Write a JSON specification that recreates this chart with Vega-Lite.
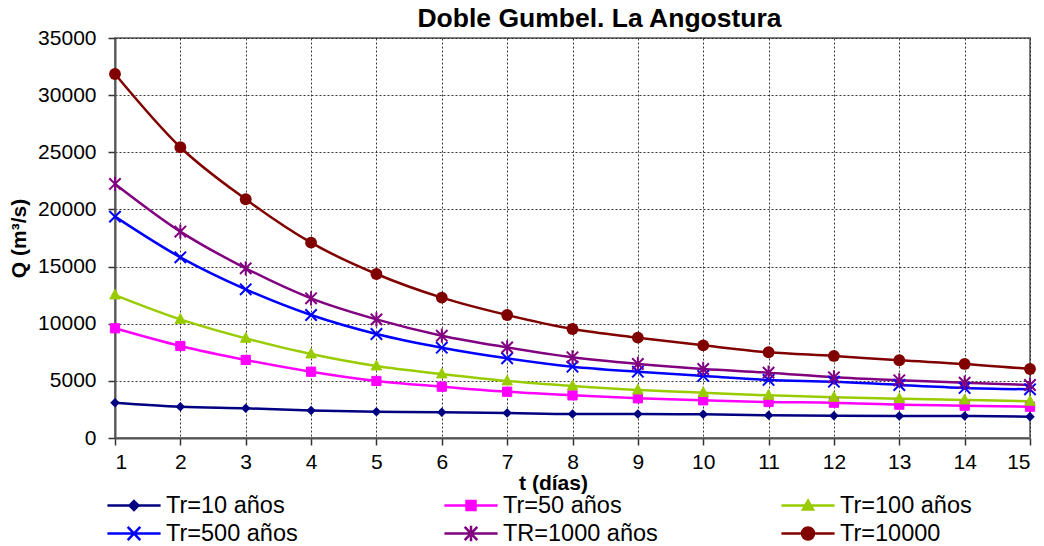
{
  "$schema": "https://vega.github.io/schema/vega-lite/v6.json",
  "width": 915,
  "height": 400,
  "autosize": "none",
  "padding": {"left": 115, "top": 38, "right": 14, "bottom": 108},
  "background": "white",
  "title": {"text": "Doble Gumbel. La Angostura", "font": "Liberation Sans", "fontSize": 26.5, "fontWeight": "bold", "color": "black", "anchor": "middle", "dx": 27, "offset": -5},
  "config": {
    "view": {"stroke": "#808080", "strokeWidth": 2},
    "axis": {"labelFont": "Liberation Sans", "labelFontSize": 21, "labelColor": "black", "titleFont": "Liberation Sans", "titleFontSize": 21, "titleFontWeight": "bold", "titleColor": "black", "gridColor": "#222", "gridDash": [2, 2], "gridWidth": 1, "gridOpacity": 0.9, "domainColor": "#555", "domainWidth": 2, "tickColor": "#333", "tickSize": 7, "tickWidth": 1.5}
  },
  "data": {"values": [
    {"t":1,"serie":"Tr=10 años","Q":3090},{"t":2,"serie":"Tr=10 años","Q":2740},{"t":3,"serie":"Tr=10 años","Q":2600},{"t":4,"serie":"Tr=10 años","Q":2400},{"t":5,"serie":"Tr=10 años","Q":2300},{"t":6,"serie":"Tr=10 años","Q":2250},{"t":7,"serie":"Tr=10 años","Q":2190},{"t":8,"serie":"Tr=10 años","Q":2100},{"t":9,"serie":"Tr=10 años","Q":2100},{"t":10,"serie":"Tr=10 años","Q":2070},{"t":11,"serie":"Tr=10 años","Q":1990},{"t":12,"serie":"Tr=10 años","Q":1950},{"t":13,"serie":"Tr=10 años","Q":1930},{"t":14,"serie":"Tr=10 años","Q":1920},{"t":15,"serie":"Tr=10 años","Q":1870},
    {"t":1,"serie":"Tr=50 años","Q":9600},{"t":2,"serie":"Tr=50 años","Q":8050},{"t":3,"serie":"Tr=50 años","Q":6830},{"t":4,"serie":"Tr=50 años","Q":5800},{"t":5,"serie":"Tr=50 años","Q":4990},{"t":6,"serie":"Tr=50 años","Q":4490},{"t":7,"serie":"Tr=50 años","Q":4050},{"t":8,"serie":"Tr=50 años","Q":3730},{"t":9,"serie":"Tr=50 años","Q":3470},{"t":10,"serie":"Tr=50 años","Q":3300},{"t":11,"serie":"Tr=50 años","Q":3150},{"t":12,"serie":"Tr=50 años","Q":3090},{"t":13,"serie":"Tr=50 años","Q":2920},{"t":14,"serie":"Tr=50 años","Q":2830},{"t":15,"serie":"Tr=50 años","Q":2740},
    {"t":1,"serie":"Tr=100 años","Q":12510},{"t":2,"serie":"Tr=100 años","Q":10380},{"t":3,"serie":"Tr=100 años","Q":8720},{"t":4,"serie":"Tr=100 años","Q":7350},{"t":5,"serie":"Tr=100 años","Q":6300},{"t":6,"serie":"Tr=100 años","Q":5600},{"t":7,"serie":"Tr=100 años","Q":4990},{"t":8,"serie":"Tr=100 años","Q":4550},{"t":9,"serie":"Tr=100 años","Q":4200},{"t":10,"serie":"Tr=100 años","Q":3970},{"t":11,"serie":"Tr=100 años","Q":3730},{"t":12,"serie":"Tr=100 años","Q":3560},{"t":13,"serie":"Tr=100 años","Q":3440},{"t":14,"serie":"Tr=100 años","Q":3330},{"t":15,"serie":"Tr=100 años","Q":3210},
    {"t":1,"serie":"Tr=500 años","Q":19370},{"t":2,"serie":"Tr=500 años","Q":15810},{"t":3,"serie":"Tr=500 años","Q":13010},{"t":4,"serie":"Tr=500 años","Q":10760},{"t":5,"serie":"Tr=500 años","Q":9100},{"t":6,"serie":"Tr=500 años","Q":7900},{"t":7,"serie":"Tr=500 años","Q":6970},{"t":8,"serie":"Tr=500 años","Q":6240},{"t":9,"serie":"Tr=500 años","Q":5800},{"t":10,"serie":"Tr=500 años","Q":5430},{"t":11,"serie":"Tr=500 años","Q":5080},{"t":12,"serie":"Tr=500 años","Q":4930},{"t":13,"serie":"Tr=500 años","Q":4640},{"t":14,"serie":"Tr=500 años","Q":4380},{"t":15,"serie":"Tr=500 años","Q":4260},
    {"t":1,"serie":"TR=1000 años","Q":22230},{"t":2,"serie":"TR=1000 años","Q":18060},{"t":3,"serie":"TR=1000 años","Q":14850},{"t":4,"serie":"TR=1000 años","Q":12220},{"t":5,"serie":"TR=1000 años","Q":10380},{"t":6,"serie":"TR=1000 años","Q":8950},{"t":7,"serie":"TR=1000 años","Q":7930},{"t":8,"serie":"TR=1000 años","Q":7060},{"t":9,"serie":"TR=1000 años","Q":6480},{"t":10,"serie":"TR=1000 años","Q":6040},{"t":11,"serie":"TR=1000 años","Q":5720},{"t":12,"serie":"TR=1000 años","Q":5310},{"t":13,"serie":"TR=1000 años","Q":5050},{"t":14,"serie":"TR=1000 años","Q":4840},{"t":15,"serie":"TR=1000 años","Q":4640},
    {"t":1,"serie":"Tr=10000","Q":31850},{"t":2,"serie":"Tr=10000","Q":25440},{"t":3,"serie":"Tr=10000","Q":20890},{"t":4,"serie":"Tr=10000","Q":17090},{"t":5,"serie":"Tr=10000","Q":14350},{"t":6,"serie":"Tr=10000","Q":12280},{"t":7,"serie":"Tr=10000","Q":10760},{"t":8,"serie":"Tr=10000","Q":9540},{"t":9,"serie":"Tr=10000","Q":8780},{"t":10,"serie":"Tr=10000","Q":8110},{"t":11,"serie":"Tr=10000","Q":7500},{"t":12,"serie":"Tr=10000","Q":7180},{"t":13,"serie":"Tr=10000","Q":6800},{"t":14,"serie":"Tr=10000","Q":6480},{"t":15,"serie":"Tr=10000","Q":6040}
  ]},
  "encoding": {
    "x": {"field": "t", "type": "quantitative", "scale": {"domain": [1, 15], "nice": false, "zero": false},
      "axis": {"title": "t (días)", "values": [1,2,3,4,5,6,7,8,9,10,11,12,13,14,15], "format": "d", "labelPadding": 6, "titlePadding": 0, "titleX": 438}},
    "y": {"field": "Q", "type": "quantitative", "scale": {"domain": [0, 35000], "nice": false},
      "axis": {"title": "Q (m³/s)", "values": [0,5000,10000,15000,20000,25000,30000,35000], "format": "d", "labelPadding": 12, "titlePadding": 8}}
  },
  "layer": [
    {"mark": {"type": "line", "interpolate": "monotone", "strokeWidth": 2.5},
      "encoding": {
        "color": {"field": "serie", "type": "nominal",
          "scale": {"domain": ["Tr=10 años","Tr=50 años","Tr=100 años","Tr=500 años","TR=1000 años","Tr=10000"], "range": ["#000080","#FF00FF","#99CC00","#0000FF","#800080","#800000"]},
          "legend": {"orient": "none", "legendX": 3.5, "legendY": 451, "direction": "horizontal", "columns": 3, "gridAlign": "all", "columnPadding": 117, "rowPadding": 0, "title": null, "padding": 0,
            "labelFont": "Liberation Sans", "labelFontSize": 23.5, "labelColor": "black", "labelOffset": 16.5, "labelLimit": 300,
            "symbolSize": 784, "symbolStrokeWidth": 2.5, "symbolType": "M-1.9,0H1.9",
            "encode": {"symbols": {"update": {
              "shape": {"signal": "datum.value == 'Tr=10 años' ? 'M-1.9,0H1.9M0,-0.32L0.32,0L0,0.32L-0.32,0Z' : datum.value == 'Tr=50 años' ? 'M-1.9,0H1.9M-0.32,-0.32H0.32V0.32H-0.32Z' : datum.value == 'Tr=100 años' ? 'M-1.9,0H1.9M0,-0.34L0.36,0.28L-0.36,0.28Z' : datum.value == 'Tr=500 años' ? 'M-1.9,0H1.9M-0.45,-0.48L0.45,0.48M-0.45,0.48L0.45,-0.48' : datum.value == 'TR=1000 años' ? 'M-1.9,0H1.9M-0.45,-0.48L0.45,0.48M-0.45,0.48L0.45,-0.48M0,-0.56V0.56' : 'M-1.9,0H1.9M0.43,0A0.43,0.43,0,1,1,-0.43,0A0.43,0.43,0,1,1,0.43,0Z'"},
              "fill": {"signal": "scale('color', datum.value)"},
              "stroke": {"signal": "scale('color', datum.value)"},
              "fillOpacity": {"value": 1},
              "opacity": {"value": 1}
            }}}}
        }
      }},
    {"transform": [{"filter": {"field": "serie", "equal": "Tr=10 años"}}],
      "mark": {"type": "point", "shape": "M0,-1L1,0L0,1L-1,0Z", "filled": true, "opacity": 1, "size": 55, "color": "#000080", "stroke": "#000080", "strokeWidth": 1.5}},
    {"transform": [{"filter": {"field": "serie", "equal": "Tr=50 años"}}],
      "mark": {"type": "point", "shape": "square", "filled": true, "opacity": 1, "size": 85, "color": "#FF00FF", "stroke": "#FF00FF", "strokeWidth": 1}},
    {"transform": [{"filter": {"field": "serie", "equal": "Tr=100 años"}}],
      "mark": {"type": "point", "shape": "M0,-1.1L1,0.75L-1,0.75Z", "filled": true, "opacity": 1, "size": 110, "color": "#99CC00", "stroke": "#99CC00", "strokeWidth": 1}},
    {"transform": [{"filter": {"field": "serie", "equal": "Tr=500 años"}}],
      "mark": {"type": "point", "shape": "M-1,-1L1,1M-1,1L1,-1", "filled": false, "opacity": 1, "size": 130, "color": "#0000FF", "strokeWidth": 2}},
    {"transform": [{"filter": {"field": "serie", "equal": "TR=1000 años"}}],
      "mark": {"type": "point", "shape": "M-1,-1L1,1M-1,1L1,-1M0,-1.25V1.25", "filled": false, "opacity": 1, "size": 130, "color": "#800080", "strokeWidth": 2}},
    {"transform": [{"filter": {"field": "serie", "equal": "Tr=10000"}}],
      "mark": {"type": "point", "shape": "circle", "filled": true, "opacity": 1, "size": 140, "color": "#800000"}}
  ]
}
